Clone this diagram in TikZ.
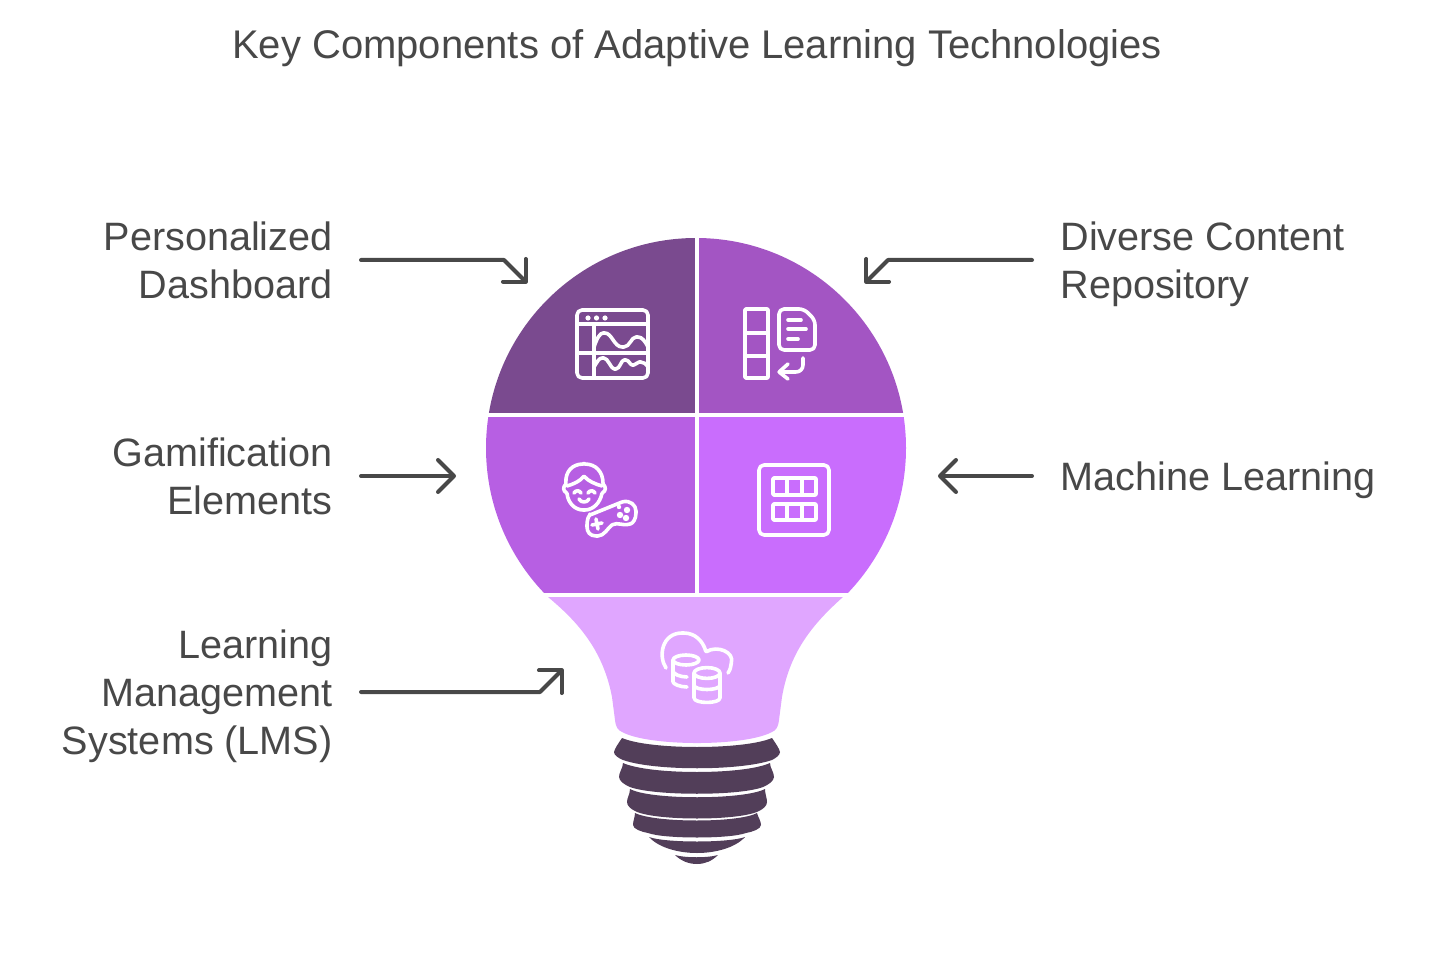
\documentclass[tikz,border=0pt]{standalone}
\usepackage{fontspec}
\setmainfont{Liberation Sans}
\usetikzlibrary{arrows.meta,positioning}
\definecolor{ink}{HTML}{484848}
\definecolor{seg1}{HTML}{7A4A8F}
\definecolor{seg2}{HTML}{A355C3}
\definecolor{seg3}{HTML}{B75FE3}
\definecolor{seg4}{HTML}{C96DFD}
\definecolor{seg5}{HTML}{E0A6FF}
\definecolor{screw}{HTML}{523E59}
\newcommand{\lnstrut}{\rule[-4.8pt]{0pt}{23.8pt}}

\begin{document}
\begin{tikzpicture}[x=.5pt,y=-.5pt,
  every node/.style={text=ink,font=\fontsize{19.8}{24}\selectfont},%
  tt/.style={font=\fontsize{20}{24}\selectfont},%
  lb/.style={anchor=east,align=right,inner xsep=14pt,inner ysep=0pt},%
  rb/.style={anchor=west,align=left,inner xsep=14pt,inner ysep=0pt},%
  e/.style={draw=ink,line width=2pt,line cap=round,line join=round,
    -{Straight Barb[length=8pt,width=16pt,line width=2pt,round]}},%
  ic/.style={draw=white,line width=1.8pt,line cap=round,line join=round,rounded corners=.4pt},%
  dot/.style={fill=white,draw=none}
  ]
  \useasboundingbox (0,0) rectangle (1440,962);
  \node (title) [tt] at (697,44) {\lnstrut Key Components of Adaptive Learning Technologies};

  % labels
  \node (dash) [lb] at (361,260) {\lnstrut Personalized\\Dashboard\lnstrut};
  \node (game) [lb,yshift=-108pt] at (dash.east) {\lnstrut Gamification\\Elements\lnstrut};
  \node (lms) [lb,yshift=-108pt] at (game.east) {\lnstrut Learning\\Management\\Systems (LMS)\lnstrut};
  \node (repo) [rb] at (1032,260) {\lnstrut Diverse Content\\Repository\lnstrut};
  \node (ml) [rb,yshift=-108pt] at (repo.west) {\lnstrut Machine Learning};

  % bulb
  \begin{scope}
    \clip (696,448) circle (105pt);
    \fill[seg1] (480,230) rectangle (694.5,412.7);
    \fill[seg2] (698.7,230) rectangle (910,412.7);
    \fill[seg3] (480,417.5) rectangle (694.5,592.7);
    \fill[seg4] (698.7,417.5) rectangle (910,592.7);
  \end{scope}
  \fill[seg5] (548,597) -- (843,597) .. controls (815,622) and (790,650) .. (782,697)
    -- (779,720) .. controls (778,728) and (776,730) .. (772,732)
    .. controls (745,746.7) and (649,746.7) .. (622,732)
    .. controls (618,730) and (616,728) .. (615,720) -- (612,697)
    .. controls (603,650) and (578,622) .. (548,597) -- cycle;

  % screw
  \begin{scope}[screw]
    \fill (622,738) .. controls (650,750) and (744,750) .. (772,738)
      .. controls (776,744) and (779,748) .. (780,752) .. controls (780,755) and (776,758) .. (772,760)
      .. controls (740,771) and (654,771) .. (623,760) .. controls (618,758) and (614,755) .. (614,752)
      .. controls (615,748) and (618,744) .. (622,738) -- cycle;
    \fill (623,763) .. controls (650,775) and (744,775) .. (770,763)
      .. controls (770,768) and (774,772) .. (774,777) .. controls (774,781) and (768,785) .. (763,787)
      .. controls (740,796) and (654,796) .. (630,787) .. controls (625,785) and (619,781) .. (619,777)
      .. controls (619,772) and (623,768) .. (623,763) -- cycle;
    \fill (630,789) .. controls (650,800) and (744,800) .. (765,789)
      .. controls (765,794) and (767,798) .. (767,802) .. controls (767,806) and (763,809) .. (759,811)
      .. controls (740,821) and (654,821) .. (635,811) .. controls (631,809) and (627,806) .. (627,802)
      .. controls (627,798) and (630,794) .. (630,789) -- cycle;
    \fill (635,813) .. controls (655,823) and (739,823) .. (757,813)
      .. controls (758,817) and (761,821) .. (761,825) .. controls (761,829) and (752,832) .. (746,833)
      .. controls (730,839) and (664,839) .. (648,833) .. controls (642,832) and (633,829) .. (633,825)
      .. controls (633,821) and (635,817) .. (635,813) -- cycle;
    \fill (649,837) .. controls (665,843) and (729,843) .. (745,837)
      .. controls (735,848) and (715,853) .. (697,853) .. controls (679,853) and (659,848) .. (649,837) -- cycle;
    \fill (675,855) .. controls (685,858) and (708,858) .. (718,855)
      .. controls (712,861) and (705,864) .. (697,864) .. controls (689,864) and (681,861) .. (675,855) -- cycle;
  \end{scope}

  % icon dashboard
  \draw[ic,rounded corners=2.5pt] (577,310) rectangle (648,378);
  \draw[ic] (577,324) -- (648,324) (594,324) -- (594,378) (577,353) -- (648,353);
  \fill[dot] (588,318) circle (1.3pt) (596.5,318) circle (1.3pt) (605,318) circle (1.3pt);
  \draw[ic] (594,347) .. controls (597,338) and (600,333) .. (604,333)
    .. controls (612,333) and (614,347) .. (623,347) .. controls (630,347) and (631,337) .. (637,337)
    .. controls (642,337) and (645,341) .. (648,347);
  \draw[ic] (594,367) .. controls (597,362) and (599,358) .. (603,358)
    .. controls (608,358) and (611,369) .. (615,369) .. controls (620,369) and (621,360) .. (625,360)
    .. controls (629,360) and (630,365) .. (633,365) .. controls (636,365) and (637,362) .. (640,362)
    .. controls (644,362) and (646,364) .. (648,367);

  % icon repository
  \draw[ic] (745,309) rectangle (768,378) (745,333) -- (768,333) (745,356) -- (768,356);
  \draw[ic,rounded corners=2.5pt] (779,309) -- (804,309) -- (815,320) -- (815,350) -- (779,350) -- cycle;
  \draw[ic] (788,320) -- (801,320) (788,329) -- (806,329) (788,339) -- (798,339);
  \draw[ic] (803,358) -- (803,364) .. controls (803,369) and (800,372) .. (795,372) -- (779,372)
    (788,364) -- (779,372) -- (788,379);

  % icon gamification
  \draw[ic] (584,464) .. controls (596,464) and (603,472) .. (603,484)
    .. controls (606,487) and (606,491) .. (602,493) .. controls (600,503) and (593,510) .. (584,510)
    .. controls (575,510) and (568,503) .. (567,493) .. controls (563,491) and (563,487) .. (566,484)
    .. controls (565,472) and (572,464) .. (584,464) -- cycle;
  \draw[ic] (567,486) .. controls (574,484) and (580,481) .. (584,476)
    .. controls (588,481) and (595,484) .. (602,486);
  \draw[ic] (574,493) .. controls (576,490) and (579,490) .. (581,493)
    (588,493) .. controls (590,490) and (593,490) .. (595,493)
    (579,499) .. controls (581,503) and (587,503) .. (589,499);
  \draw[ic] (590,515) -- (622,502) .. controls (630,500) and (636,505) .. (636,512)
    .. controls (636,519) and (633,523) .. (630,524) .. controls (622,526) and (618,522) .. (612,525)
    .. controls (608,528) and (604,536) .. (597,536) .. controls (590,536) and (587,532) .. (587,526)
    .. controls (587,521) and (588,517) .. (590,515) -- cycle;
  \draw[ic] (592,525) -- (602,523) (596,519) -- (598,529);
  \fill[dot] (620,515) circle (1.6pt) (627,510) circle (1.6pt) (626,518) circle (1.6pt) (619,507) circle (1.1pt);

  % icon machine learning
  \draw[ic,rounded corners=2.5pt] (759,465) rectangle (829,535);
  \draw[ic] (773,478) rectangle (816,495) (787,478) -- (787,495) (802,478) -- (802,495);
  \draw[ic] (773,504) rectangle (816,520) (787,504) -- (787,520) (802,504) -- (802,520);

  % icon lms
  \draw[ic] (666,668) .. controls (658,656) and (662,633) .. (683,633)
    .. controls (695,633) and (703,641) .. (706,652) .. controls (717,645) and (735,652) .. (731,664)
    .. controls (731,667) and (730,670) .. (728,673);
  \draw[ic] (686,660) ellipse (6.5pt and 2.5pt);
  \draw[ic] (673,660) -- (673,681) .. controls (673,684) and (680,687) .. (687,687)
    (673,671) .. controls (673,674) and (680,677) .. (687,677);
  \draw[ic] (707,673) ellipse (6.5pt and 2.7pt);
  \draw[ic] (694,673) -- (694,697) .. controls (694,704) and (720,704) .. (720,697) -- (720,673)
    (694,685) .. controls (694,691) and (720,691) .. (720,685);

  % connectors
  \coordinate (dashend) at (527,283);
  \coordinate (repoend) at (865,283);
  \coordinate (gameend) at (456,476);
  \coordinate (mlend) at (938,476);
  \coordinate (lmsend) at (563,669);
  \draw[e] (dash.east) -- (504,260) -- (dashend);
  \draw[e] (repo.west) -- (888,260) -- (repoend);
  \draw[e] (game.east) -- (gameend);
  \draw[e] (ml.west) -- (mlend);
  \draw[e] (lms.east) -- (540,692) -- (lmsend);
\end{tikzpicture}
\end{document}
